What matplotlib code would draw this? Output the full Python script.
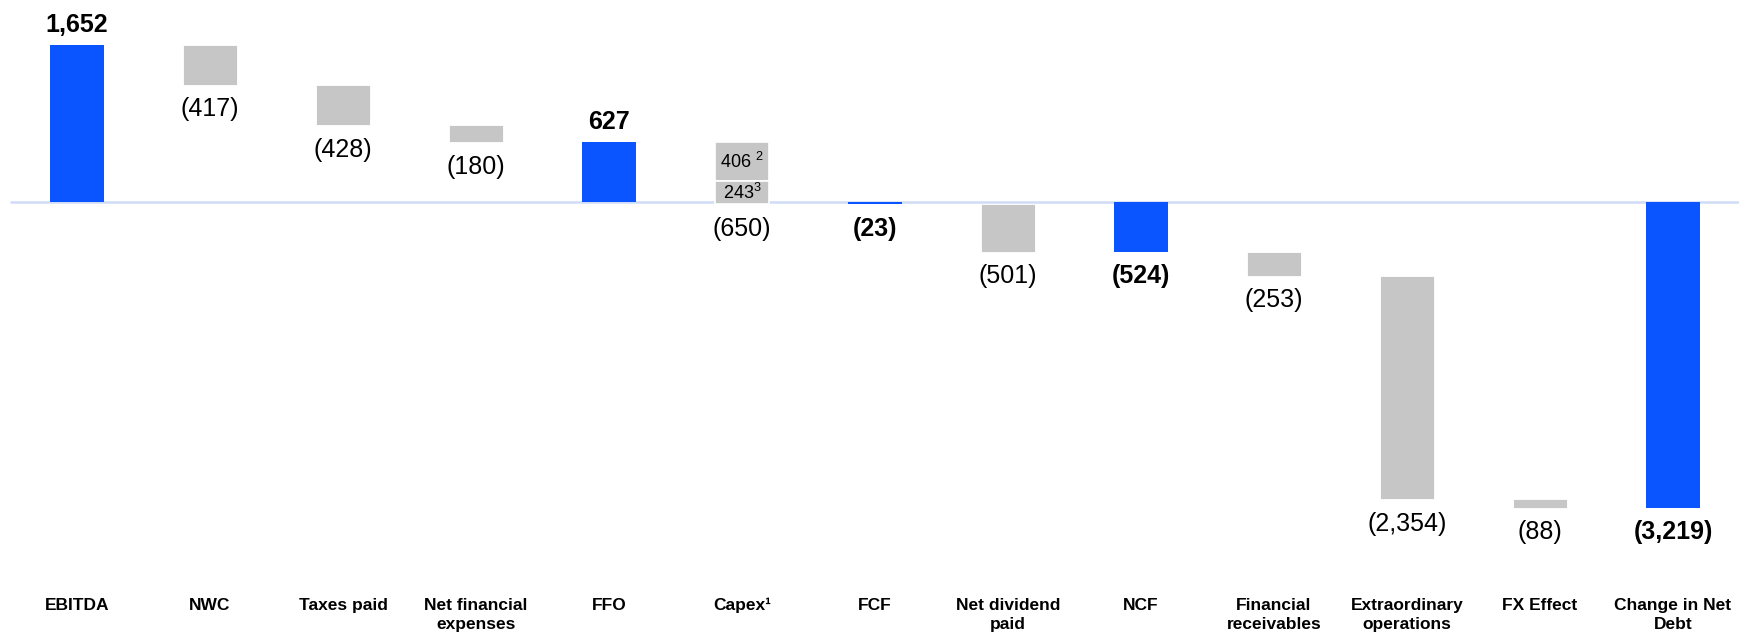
import matplotlib
matplotlib.use("Agg")
import matplotlib.pyplot as plt

# Net debt bridge (EUR m)
categories = ["EBITDA", "NWC", "Taxes paid", "Net financial\nexpenses", "FFO", "Capex¹",
              "FCF", "Net dividend\npaid", "NCF", "Financial\nreceivables",
              "Extraordinary\noperations", "FX Effect", "Change in Net\nDebt"]
values = [1652, -417, -428, -180, 627, -650, -23, -501, -524, -253, -2354, -88, -3219]
is_total = [True, False, False, False, True, False, True, False, True, False, False, False, True]

# Capex split into its two components
capex_parts = [406, 243]
capex_part_labels = ["406 $^{2}$", "243$^{3}$"]

BLUE = "#0A55FF"
GREY = "#C6C6C6"
BASELINE = "#D0DCF6"

plt.rcParams["font.family"] = ["Liberation Sans", "DejaVu Sans"]
plt.rcParams["mathtext.fontset"] = "custom"
plt.rcParams["mathtext.rm"] = "Liberation Sans"
plt.rcParams["mathtext.it"] = "Liberation Sans"
plt.rcParams["mathtext.bf"] = "Liberation Sans:bold"
plt.rcParams["mathtext.default"] = "regular"


def fmt(v):
    s = f"{abs(v):,}"
    return f"({s})" if v < 0 else s


fig = plt.figure(figsize=(17.4, 6.36), dpi=100)
ax = fig.add_axes([0, 0, 1, 1])

# px scale: bar centres 133 px apart, first at 77 px; baseline 202 px from top
px_per_unit = 0.095
xmin = -77 / 133
xmax = xmin + 1740 / 133
ymax = 202 / px_per_unit
ymin = ymax - 636 / px_per_unit
ax.set_xlim(xmin, xmax)
ax.set_ylim(ymin, ymax)
ax.axis("off")

ax.plot([xmin + 10 / 133, xmax], [0, 0], color=BASELINE, lw=1.8, zorder=1, solid_capstyle="butt")

width = 0.406
running = 0
for i, (cat, v, tot) in enumerate(zip(categories, values, is_total)):
    if tot:
        ax.bar(i, v, width=width, bottom=0, color=BLUE, zorder=2)
        bottom, top = min(0, v), max(0, v)
        running = v
    else:
        start = running
        end = running + v
        if cat.startswith("Capex"):
            seg_top = start
            for part, lab in zip(capex_parts, capex_part_labels):
                ax.bar(i, -part, width=width, bottom=seg_top, color=GREY,
                       edgecolor="white", linewidth=1.2, zorder=2)
                ax.text(i, seg_top - part / 2, lab, ha="center", va="center",
                        fontsize=13, zorder=3)
                seg_top -= part
        else:
            ax.bar(i, v, width=width, bottom=start, color=GREY,
                   edgecolor="white", linewidth=0.6, zorder=2)
        bottom, top = min(start, end), max(start, end)
        running = end

    weight = "bold" if tot else "normal"
    if tot and v > 0:
        ax.annotate(fmt(v), (i, top), xytext=(0, 6), textcoords="offset points",
                    ha="center", va="bottom", fontsize=18, fontweight=weight)
    else:
        ax.annotate(fmt(v), (i, bottom), xytext=(0, -9), textcoords="offset points",
                    ha="center", va="top", fontsize=18, fontweight=weight)

    ax.text(i, 1 - 598 / 636, cat, transform=ax.get_xaxis_transform(),
            ha="center", va="top", fontsize=12.5, fontweight="bold", linespacing=1.3)

fig.savefig("out.png", dpi=100)
